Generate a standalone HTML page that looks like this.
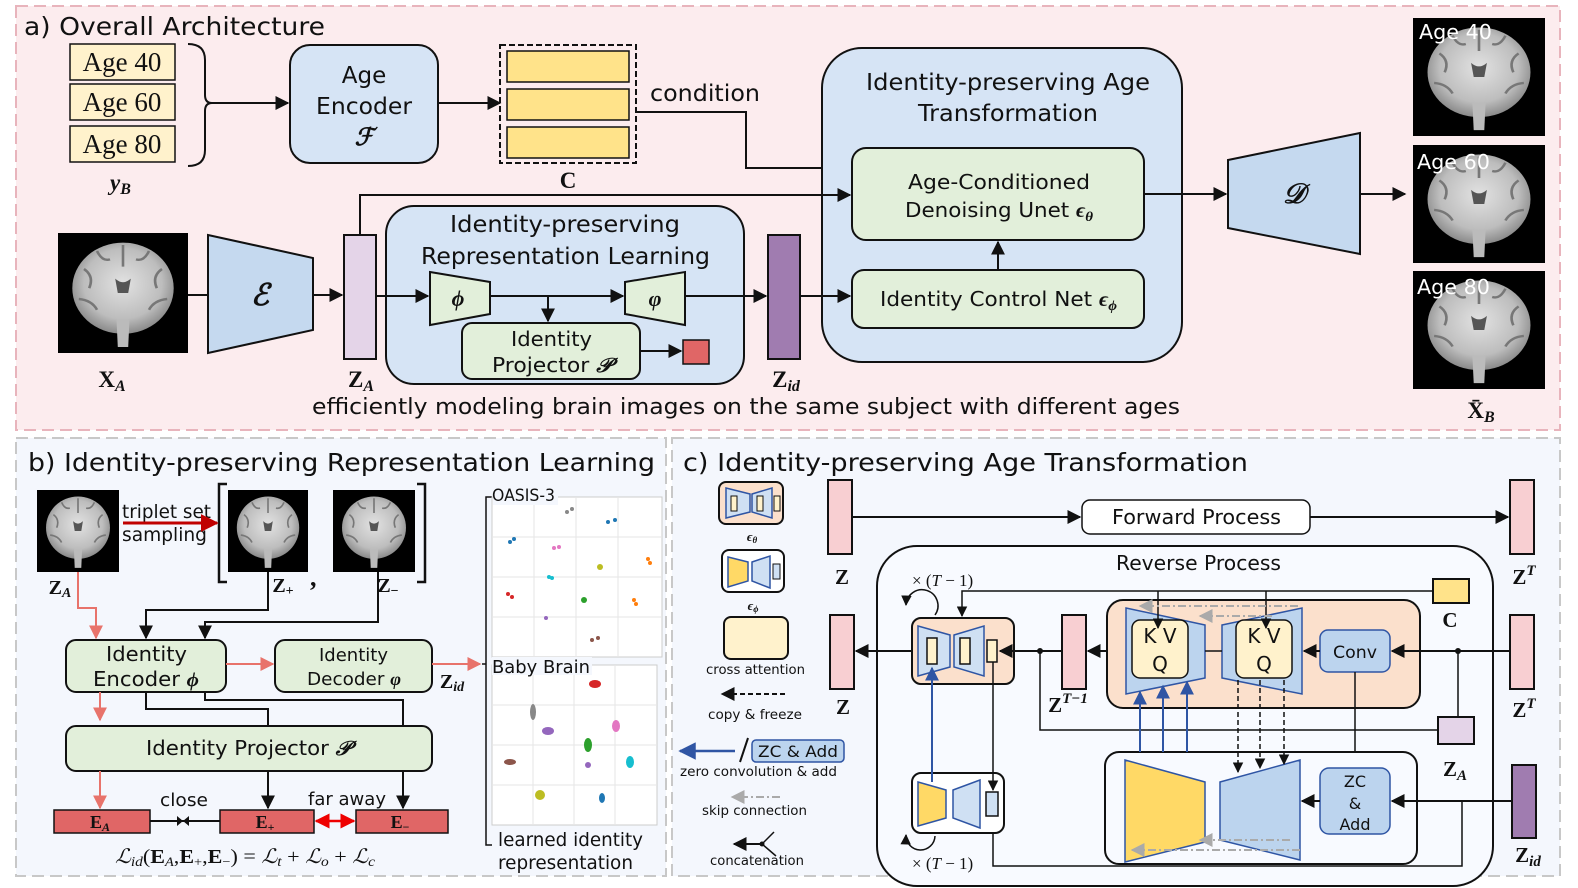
<!DOCTYPE html>
<html><head><meta charset="utf-8"><style>
html,body{margin:0;padding:0;background:#fff}
svg{display:block}
text{font-family:"DejaVu Sans","Liberation Sans",sans-serif;fill:#111}
.m{font-family:"Liberation Serif","DejaVu Serif",serif;font-weight:bold}
.mi{font-family:"Liberation Serif","DejaVu Serif",serif;font-style:italic;font-weight:bold}
</style></head><body>
<svg width="1578" height="888" viewBox="0 0 1578 888" xmlns="http://www.w3.org/2000/svg">
<defs>
<marker id="ar" viewBox="0 0 10 10" refX="9" refY="5" markerWidth="7" markerHeight="7" orient="auto-start-reverse"><path d="M0,0L10,5L0,10z" fill="#111"/></marker>
<marker id="rr" viewBox="0 0 10 10" refX="9" refY="5" markerWidth="7" markerHeight="7" orient="auto-start-reverse"><path d="M0,0L10,5L0,10z" fill="#e8736b"/></marker>
<marker id="dr" viewBox="0 0 10 10" refX="9" refY="5" markerWidth="6" markerHeight="6" orient="auto-start-reverse"><path d="M0,0L10,5L0,10z" fill="#c00000"/></marker>
<marker id="br" viewBox="0 0 10 10" refX="9" refY="5" markerWidth="7" markerHeight="7" orient="auto"><path d="M0,0L10,5L0,10z" fill="#2f55a4"/></marker>
<marker id="gr" viewBox="0 0 10 10" refX="9" refY="5" markerWidth="7" markerHeight="7" orient="auto"><path d="M0,0L10,5L0,10z" fill="#aaa"/></marker>
<marker id="ra" viewBox="0 0 10 10" refX="9" refY="5" markerWidth="6" markerHeight="6" orient="auto-start-reverse"><path d="M0,0L10,5L0,10z" fill="#e00"/></marker>
<radialGradient id="bg1" cx="50%" cy="45%" r="55%"><stop offset="0" stop-color="#e2e2e2"/><stop offset="0.7" stop-color="#bdbdbd"/><stop offset="1" stop-color="#8a8a8a"/></radialGradient>
<symbol id="brain" viewBox="0 0 100 100" preserveAspectRatio="none">
<rect width="100" height="100" fill="#000"/>
<ellipse cx="50" cy="46" rx="39" ry="38" fill="url(#bg1)"/>
<path d="M45,72 L55,72 L54,95 L46,95z" fill="#bbb"/>
<g stroke="#777" stroke-width="2" fill="none">
<path d="M20,30 Q28,36 24,46 M80,30 Q72,36 76,46 M30,15 Q34,24 40,22 M70,15 Q66,24 60,22 M16,55 Q26,56 30,64 M84,55 Q74,56 70,64 M50,10 L50,28"/>
</g>
<path d="M44,38 Q50,44 56,38 L54,50 L46,50z" fill="#555"/>
</symbol>
</defs>

<rect x="16" y="6" width="1544" height="424" fill="#fcecee" stroke="#e8b4bc" stroke-width="2" stroke-dasharray="12 6"/>
<rect x="16" y="438" width="650" height="438" fill="#f4f7fd" stroke="#c8c8c8" stroke-width="2" stroke-dasharray="12 6"/>
<rect x="672" y="438" width="888" height="438" fill="#f4f7fd" stroke="#c8c8c8" stroke-width="2" stroke-dasharray="12 6"/>

<!-- ===== Panel a ===== -->
<text x="24" y="35" font-size="25" textLength="301" lengthAdjust="spacingAndGlyphs">a) Overall Architecture</text>
<rect x="70" y="44" width="105" height="36" fill="#fff2cc" stroke="#111" stroke-width="1.5"/>
<rect x="70" y="84" width="105" height="36" fill="#fff2cc" stroke="#111" stroke-width="1.5"/>
<rect x="70" y="126" width="105" height="36" fill="#fff2cc" stroke="#111" stroke-width="1.5"/>
<text x="122" y="71" font-size="27" text-anchor="middle" style="font-family:'Liberation Serif',serif">Age 40</text>
<text x="122" y="111" font-size="27" text-anchor="middle" style="font-family:'Liberation Serif',serif">Age 60</text>
<text x="122" y="153" font-size="27" text-anchor="middle" style="font-family:'Liberation Serif',serif">Age 80</text>
<path d="M188,44 Q205,44 205,60 L205,95 Q205,103 212,103 Q205,103 205,111 L205,150 Q205,166 188,166" fill="none" stroke="#111" stroke-width="2"/>
<line x1="212" y1="103" x2="288" y2="103" stroke="#111" stroke-width="2" marker-end="url(#ar)"/>
<text x="110" y="190" font-size="23" class="mi">y<tspan font-size="16" dy="4">B</tspan></text>
<rect x="290" y="45" width="148" height="118" rx="20" fill="#d6e4f5" stroke="#111" stroke-width="2"/>
<text x="364" y="83" font-size="23" text-anchor="middle">Age</text>
<text x="364" y="114" font-size="23" text-anchor="middle" textLength="96" lengthAdjust="spacingAndGlyphs">Encoder</text>
<text x="364" y="145" font-size="24" text-anchor="middle" class="mi">ℱ</text>
<line x1="438" y1="103" x2="500" y2="103" stroke="#111" stroke-width="2" marker-end="url(#ar)"/>
<rect x="500" y="45" width="136" height="118" fill="none" stroke="#111" stroke-width="2" stroke-dasharray="6 3"/>
<rect x="507" y="51" width="122" height="31" fill="#ffe38a" stroke="#111" stroke-width="1.5"/>
<rect x="507" y="89" width="122" height="31" fill="#ffe38a" stroke="#111" stroke-width="1.5"/>
<rect x="507" y="127" width="122" height="31" fill="#ffe38a" stroke="#111" stroke-width="1.5"/>
<text x="568" y="188" font-size="23" class="m" text-anchor="middle">C</text>
<text x="650" y="101" font-size="23" textLength="110" lengthAdjust="spacingAndGlyphs">condition</text>
<polyline points="636,112 746,112 746,168 850,168" fill="none" stroke="#111" stroke-width="2" marker-end="url(#ar)"/>
<rect x="822" y="48" width="360" height="314" rx="40" fill="#d6e4f5" stroke="#111" stroke-width="2"/>
<text x="866" y="90" font-size="23" textLength="284" lengthAdjust="spacingAndGlyphs">Identity-preserving Age</text>
<text x="918" y="121" font-size="23" textLength="180" lengthAdjust="spacingAndGlyphs">Transformation</text>
<rect x="852" y="148" width="292" height="92" rx="14" fill="#e2efda" stroke="#111" stroke-width="2"/>
<text x="908" y="189" font-size="20" textLength="182" lengthAdjust="spacingAndGlyphs">Age-Conditioned</text>
<text x="905" y="217" font-size="20" textLength="188" lengthAdjust="spacingAndGlyphs">Denoising Unet <tspan class="mi">ϵ<tspan font-size="14" dy="4">θ</tspan></tspan></text>
<rect x="852" y="270" width="292" height="58" rx="12" fill="#e2efda" stroke="#111" stroke-width="2"/>
<text x="880" y="306" font-size="20" textLength="237" lengthAdjust="spacingAndGlyphs">Identity Control Net <tspan class="mi">ϵ<tspan font-size="14" dy="4">ϕ</tspan></tspan></text>
<line x1="998" y1="270" x2="998" y2="242" stroke="#111" stroke-width="2" marker-end="url(#ar)"/>
<use href="#brain" x="58" y="233" width="130" height="120"/>
<text x="112" y="387" font-size="23" class="m" text-anchor="middle">X<tspan font-size="16" dy="4" class="mi">A</tspan></text>
<line x1="188" y1="295" x2="208" y2="295" stroke="#111" stroke-width="2"/>
<polygon points="208,235 313,258 313,330 208,353" fill="#c5d9ef" stroke="#111" stroke-width="2"/>
<text x="260" y="305" font-size="30" class="mi" text-anchor="middle">ℰ</text>
<line x1="313" y1="295" x2="342" y2="295" stroke="#111" stroke-width="2" marker-end="url(#ar)"/>
<rect x="344" y="235" width="32" height="124" fill="#e4d4e8" stroke="#111" stroke-width="2"/>
<text x="361" y="387" font-size="23" class="m" text-anchor="middle">Z<tspan font-size="16" dy="4" class="mi">A</tspan></text>
<polyline points="360,235 360,195 850,195" fill="none" stroke="#111" stroke-width="2" marker-end="url(#ar)"/>
<rect x="386" y="206" width="358" height="178" rx="28" fill="#d6e4f5" stroke="#111" stroke-width="2"/>
<text x="450" y="232" font-size="23" textLength="230" lengthAdjust="spacingAndGlyphs">Identity-preserving</text>
<text x="421" y="264" font-size="23" textLength="289" lengthAdjust="spacingAndGlyphs">Representation Learning</text>
<line x1="376" y1="296" x2="428" y2="296" stroke="#111" stroke-width="2" marker-end="url(#ar)"/>
<polygon points="430,272 490,282 490,314 430,325" fill="#e2efda" stroke="#111" stroke-width="2"/>
<text x="458" y="306" font-size="22" class="mi" text-anchor="middle">ϕ</text>
<line x1="490" y1="296" x2="623" y2="296" stroke="#111" stroke-width="2" marker-end="url(#ar)"/>
<line x1="548" y1="296" x2="548" y2="321" stroke="#111" stroke-width="2" marker-end="url(#ar)"/>
<polygon points="625,282 685,272 685,325 625,314" fill="#e2efda" stroke="#111" stroke-width="2"/>
<text x="655" y="306" font-size="22" class="mi" text-anchor="middle">φ</text>
<rect x="462" y="323" width="178" height="56" rx="10" fill="#e2efda" stroke="#111" stroke-width="2"/>
<text x="511" y="346" font-size="20" textLength="81" lengthAdjust="spacingAndGlyphs">Identity</text>
<text x="492" y="372" font-size="20" textLength="120" lengthAdjust="spacingAndGlyphs">Projector <tspan class="mi">𝒫</tspan></text>
<line x1="640" y1="351" x2="681" y2="351" stroke="#111" stroke-width="2" marker-end="url(#ar)"/>
<rect x="683" y="340" width="26" height="24" fill="#e06666" stroke="#111" stroke-width="1.5"/>
<line x1="685" y1="296" x2="766" y2="296" stroke="#111" stroke-width="2" marker-end="url(#ar)"/>
<rect x="768" y="235" width="32" height="124" fill="#a07cb0" stroke="#111" stroke-width="2"/>
<text x="786" y="387" font-size="23" class="m" text-anchor="middle">Z<tspan font-size="16" dy="4" class="mi">id</tspan></text>
<line x1="800" y1="296" x2="850" y2="296" stroke="#111" stroke-width="2" marker-end="url(#ar)"/>
<text x="312" y="414" font-size="22" textLength="868" lengthAdjust="spacingAndGlyphs">efficiently modeling brain images on the same subject with different ages</text>
<line x1="1144" y1="194" x2="1226" y2="194" stroke="#111" stroke-width="2" marker-end="url(#ar)"/>
<polygon points="1228,160 1360,133 1360,254 1228,228" fill="#c5d9ef" stroke="#111" stroke-width="2"/>
<text x="1294" y="203" font-size="28" class="mi" text-anchor="middle">𝒟</text>
<line x1="1360" y1="194" x2="1405" y2="194" stroke="#111" stroke-width="2" marker-end="url(#ar)"/>
<use href="#brain" x="1413" y="18" width="132" height="118"/>
<use href="#brain" x="1413" y="145" width="132" height="118"/>
<use href="#brain" x="1413" y="271" width="132" height="118"/>
<text x="1419" y="39" font-size="20" style="fill:#fff" textLength="73" lengthAdjust="spacingAndGlyphs">Age 40</text>
<text x="1417" y="169" font-size="20" style="fill:#fff" textLength="73" lengthAdjust="spacingAndGlyphs">Age 60</text>
<text x="1417" y="294" font-size="20" style="fill:#fff" textLength="73" lengthAdjust="spacingAndGlyphs">Age 80</text>
<text x="1481" y="418" font-size="23" class="m" text-anchor="middle">X̄<tspan font-size="16" dy="4" class="mi">B</tspan></text>

<!-- ===== Panel b ===== -->
<text x="28" y="471" font-size="25" textLength="627" lengthAdjust="spacingAndGlyphs">b) Identity-preserving Representation Learning</text>
<use href="#brain" x="37" y="490" width="82" height="82"/>
<use href="#brain" x="228" y="490" width="80" height="82"/>
<use href="#brain" x="333" y="490" width="82" height="82"/>
<path d="M227,484 L219,484 L219,582 L227,582" fill="none" stroke="#111" stroke-width="2.5"/>
<path d="M417,484 L425,484 L425,582 L417,582" fill="none" stroke="#111" stroke-width="2.5"/>
<text x="122" y="518" font-size="19" textLength="89" lengthAdjust="spacingAndGlyphs">triplet set</text>
<text x="122" y="541" font-size="19" textLength="85" lengthAdjust="spacingAndGlyphs">sampling</text>
<line x1="123" y1="523" x2="217" y2="523" stroke="#c00000" stroke-width="3" marker-end="url(#dr)"/>
<text x="60" y="594" font-size="20" class="m" text-anchor="middle">Z<tspan font-size="14" dy="3" class="mi">A</tspan></text>
<text x="283" y="592" font-size="20" class="m" text-anchor="middle">Z<tspan font-size="14" dy="3">+</tspan></text>
<text x="310" y="586" font-size="26" class="m">,</text>
<text x="388" y="592" font-size="20" class="m" text-anchor="middle">Z<tspan font-size="14" dy="3">−</tspan></text>
<polyline points="78,572 78,608 96,608 96,638" fill="none" stroke="#e8736b" stroke-width="2" marker-end="url(#rr)"/>
<polyline points="268,572 268,610 146,610 146,638" fill="none" stroke="#111" stroke-width="2" marker-end="url(#ar)"/>
<polyline points="378,572 378,622 205,622 205,638" fill="none" stroke="#111" stroke-width="2" marker-end="url(#ar)"/>
<rect x="66" y="640" width="160" height="52" rx="10" fill="#e2efda" stroke="#111" stroke-width="2"/>
<text x="106" y="661" font-size="20" textLength="81" lengthAdjust="spacingAndGlyphs">Identity</text>
<text x="93" y="686" font-size="20" textLength="106" lengthAdjust="spacingAndGlyphs">Encoder <tspan class="mi">ϕ</tspan></text>
<line x1="226" y1="664" x2="273" y2="664" stroke="#e8736b" stroke-width="2" marker-end="url(#rr)"/>
<rect x="275" y="640" width="157" height="52" rx="10" fill="#e2efda" stroke="#111" stroke-width="2"/>
<text x="319" y="661" font-size="18" textLength="69" lengthAdjust="spacingAndGlyphs">Identity</text>
<text x="307" y="685" font-size="18" textLength="94" lengthAdjust="spacingAndGlyphs">Decoder <tspan class="mi">φ</tspan></text>
<line x1="432" y1="664" x2="480" y2="664" stroke="#e8736b" stroke-width="2" marker-end="url(#rr)"/>
<text x="452" y="688" font-size="20" class="m" text-anchor="middle">Z<tspan font-size="14" dy="3" class="mi">id</tspan></text>
<line x1="100" y1="692" x2="100" y2="720" stroke="#e8736b" stroke-width="2" marker-end="url(#rr)"/>
<polyline points="146,692 146,709 268,709 268,726" fill="none" stroke="#111" stroke-width="2"/>
<polyline points="205,692 205,700 403,700 403,726" fill="none" stroke="#111" stroke-width="2"/>
<rect x="66" y="726" width="366" height="45" rx="10" fill="#e2efda" stroke="#111" stroke-width="2"/>
<text x="146" y="755" font-size="20" textLength="205" lengthAdjust="spacingAndGlyphs">Identity Projector <tspan class="mi">𝒫</tspan></text>
<line x1="100" y1="771" x2="100" y2="808" stroke="#e8736b" stroke-width="2" marker-end="url(#rr)"/>
<line x1="268" y1="771" x2="268" y2="808" stroke="#111" stroke-width="2" marker-end="url(#ar)"/>
<line x1="403" y1="771" x2="403" y2="808" stroke="#111" stroke-width="2" marker-end="url(#ar)"/>
<rect x="54" y="810" width="96" height="23" fill="#e06666" stroke="#111" stroke-width="1.5"/>
<rect x="220" y="810" width="94" height="23" fill="#e06666" stroke="#111" stroke-width="1.5"/>
<rect x="356" y="810" width="92" height="23" fill="#e06666" stroke="#111" stroke-width="1.5"/>
<text x="100" y="828" font-size="18" class="m" text-anchor="middle">E<tspan font-size="12" dy="3" class="mi">A</tspan></text>
<text x="265" y="828" font-size="18" class="m" text-anchor="middle">E<tspan font-size="12" dy="3">+</tspan></text>
<text x="400" y="828" font-size="18" class="m" text-anchor="middle">E<tspan font-size="12" dy="3">−</tspan></text>
<line x1="150" y1="821" x2="220" y2="821" stroke="#111" stroke-width="2"/>
<path d="M177,816 L189,826 L189,816 L177,826z" fill="#111"/>
<text x="160" y="806" font-size="18" textLength="48" lengthAdjust="spacingAndGlyphs">close</text>
<text x="308" y="805" font-size="18" textLength="78" lengthAdjust="spacingAndGlyphs">far away</text>
<line x1="316" y1="821" x2="354" y2="821" stroke="#e00" stroke-width="2.5" marker-start="url(#ra)" marker-end="url(#ra)"/>
<text x="115" y="863" font-size="20" textLength="260" lengthAdjust="spacingAndGlyphs" style="font-family:'Liberation Serif',serif"><tspan font-style="italic">ℒ</tspan><tspan font-size="14" dy="3" font-style="italic">id</tspan><tspan dy="-3">(</tspan><tspan font-weight="bold">E</tspan><tspan font-size="13" dy="3" font-style="italic">A</tspan><tspan dy="-3">,</tspan><tspan font-weight="bold">E</tspan><tspan font-size="13" dy="3">+</tspan><tspan dy="-3">,</tspan><tspan font-weight="bold">E</tspan><tspan font-size="13" dy="3">−</tspan><tspan dy="-3">) = </tspan><tspan font-style="italic">ℒ</tspan><tspan font-size="14" dy="3" font-style="italic">t</tspan><tspan dy="-3"> + </tspan><tspan font-style="italic">ℒ</tspan><tspan font-size="14" dy="3" font-style="italic">o</tspan><tspan dy="-3"> + </tspan><tspan font-style="italic">ℒ</tspan><tspan font-size="14" dy="3" font-style="italic">c</tspan></text>
<!-- scatter -->
<polyline points="492,497 486,497 486,845 492,845" fill="none" stroke="#111" stroke-width="1.5"/>
<line x1="482" y1="664" x2="486" y2="664" stroke="#111" stroke-width="1.5"/>
<rect x="492" y="497" width="170" height="160" fill="#fff" stroke="#ccc"/>
<g stroke="#e6e6e6"><line x1="492" y1="537" x2="662" y2="537"/><line x1="492" y1="577" x2="662" y2="577"/><line x1="492" y1="617" x2="662" y2="617"/><line x1="534" y1="497" x2="534" y2="657"/><line x1="576" y1="497" x2="576" y2="657"/><line x1="618" y1="497" x2="618" y2="657"/></g>
<rect x="492" y="665" width="165" height="160" fill="#fff" stroke="#ccc"/>
<g stroke="#e6e6e6"><line x1="492" y1="705" x2="657" y2="705"/><line x1="492" y1="745" x2="657" y2="745"/><line x1="492" y1="785" x2="657" y2="785"/><line x1="533" y1="665" x2="533" y2="825"/><line x1="574" y1="665" x2="574" y2="825"/><line x1="615" y1="665" x2="615" y2="825"/></g>
<rect x="493" y="487" width="65" height="18" fill="#f4f7fd"/>
<text x="492" y="501" font-size="17" textLength="63" lengthAdjust="spacingAndGlyphs">OASIS-3</text>
<rect x="492" y="657" width="100" height="18" fill="#f4f7fd"/>
<text x="492" y="673" font-size="18" textLength="98" lengthAdjust="spacingAndGlyphs">Baby Brain</text>
<g>
<circle cx="567" cy="512" r="2" fill="#888"/><circle cx="572" cy="509" r="2" fill="#888"/>
<circle cx="608" cy="522" r="2" fill="#1f77b4"/><circle cx="615" cy="520" r="2" fill="#1f77b4"/>
<circle cx="510" cy="542" r="2" fill="#1f77b4"/><circle cx="514" cy="539" r="2" fill="#1f77b4"/>
<circle cx="554" cy="548" r="2" fill="#e377c2"/><circle cx="559" cy="547" r="2" fill="#e377c2"/>
<circle cx="600" cy="567" r="3" fill="#bcbd22"/>
<circle cx="648" cy="559" r="2" fill="#ff7f0e"/><circle cx="650" cy="563" r="2" fill="#ff7f0e"/>
<circle cx="549" cy="577" r="2" fill="#17becf"/><circle cx="552" cy="578" r="2" fill="#17becf"/>
<circle cx="508" cy="594" r="2" fill="#d62728"/><circle cx="512" cy="597" r="2" fill="#d62728"/>
<circle cx="584" cy="600" r="3" fill="#2ca02c"/>
<circle cx="634" cy="600" r="2" fill="#ff7f0e"/><circle cx="636" cy="604" r="2" fill="#ff7f0e"/>
<circle cx="546" cy="618" r="2" fill="#9467bd"/>
<circle cx="592" cy="640" r="2" fill="#8c564b"/><circle cx="598" cy="638" r="2" fill="#8c564b"/>
<ellipse cx="595" cy="684" rx="6" ry="4" fill="#d62728"/>
<ellipse cx="533" cy="712" rx="3" ry="8" fill="#888"/>
<ellipse cx="548" cy="731" rx="6" ry="4" fill="#9467bd"/>
<ellipse cx="616" cy="726" rx="4" ry="6" fill="#e377c2"/>
<ellipse cx="588" cy="745" rx="4" ry="7" fill="#2ca02c"/>
<circle cx="588" cy="765" r="3" fill="#9467bd"/>
<ellipse cx="510" cy="762" rx="6" ry="3" fill="#8c564b"/>
<ellipse cx="630" cy="762" rx="4" ry="6" fill="#17becf"/>
<ellipse cx="540" cy="795" rx="5" ry="5" fill="#bcbd22"/>
<ellipse cx="602" cy="798" rx="3" ry="5" fill="#1f77b4"/>
</g>
<text x="498" y="846" font-size="19" textLength="145" lengthAdjust="spacingAndGlyphs">learned identity</text>
<text x="498" y="869" font-size="19" textLength="135" lengthAdjust="spacingAndGlyphs">representation</text>

<!-- ===== Panel c ===== -->
<text x="683" y="471" font-size="25" textLength="565" lengthAdjust="spacingAndGlyphs">c) Identity-preserving Age Transformation</text>
<rect x="719" y="482" width="64" height="42" rx="7" fill="#fbe0cc" stroke="#111" stroke-width="2"/>
<polygon points="726,488 750,494 750,512 726,518" fill="#cfe0f3" stroke="#2f55a4" stroke-width="1.5"/>
<polygon points="752,494 772,488 772,518 752,512" fill="#cfe0f3" stroke="#2f55a4" stroke-width="1.5"/>
<rect x="731" y="496" width="6" height="15" fill="#fff2cc" stroke="#111"/><rect x="757" y="496" width="6" height="15" fill="#fff2cc" stroke="#111"/><rect x="774" y="496" width="6" height="15" fill="#fff2cc" stroke="#111"/>
<text x="752" y="541" font-size="13" class="mi" text-anchor="middle">ϵ<tspan font-size="9" dy="2">θ</tspan></text>
<rect x="722" y="550" width="62" height="42" rx="7" fill="#fff" stroke="#111" stroke-width="2"/>
<polygon points="728,557 748,562 748,581 728,587" fill="#ffd966" stroke="#2f55a4" stroke-width="1.5"/>
<polygon points="752,562 770,556 770,588 752,581" fill="#cfe0f3" stroke="#2f55a4" stroke-width="1.5"/>
<rect x="773" y="564" width="7" height="15" fill="#cfe0f3" stroke="#111"/>
<text x="753" y="610" font-size="13" class="mi" text-anchor="middle">ϵ<tspan font-size="9" dy="2">ϕ</tspan></text>
<rect x="724" y="617" width="64" height="42" rx="7" fill="#fff2cc" stroke="#111" stroke-width="2"/>
<text x="706" y="674" font-size="13" textLength="99" lengthAdjust="spacingAndGlyphs">cross attention</text>
<line x1="785" y1="694" x2="722" y2="694" stroke="#111" stroke-width="2" stroke-dasharray="5 3" marker-end="url(#ar)"/>
<text x="708" y="719" font-size="13" textLength="94" lengthAdjust="spacingAndGlyphs">copy &amp; freeze</text>
<line x1="735" y1="751" x2="680" y2="751" stroke="#2f55a4" stroke-width="2.5" marker-end="url(#br)"/>
<line x1="740" y1="762" x2="748" y2="738" stroke="#111" stroke-width="2"/>
<rect x="752" y="740" width="92" height="22" rx="4" fill="#bcd4ee" stroke="#2f55a4" stroke-width="1.5"/>
<text x="798" y="757" font-size="16" text-anchor="middle" textLength="80" lengthAdjust="spacingAndGlyphs">ZC &amp; Add</text>
<text x="680" y="776" font-size="13" textLength="157" lengthAdjust="spacingAndGlyphs">zero convolution &amp; add</text>
<line x1="780" y1="797" x2="732" y2="797" stroke="#aaa" stroke-width="2" stroke-dasharray="8 3 2 3" marker-end="url(#gr)"/>
<text x="702" y="815" font-size="13" textLength="105" lengthAdjust="spacingAndGlyphs">skip connection</text>
<line x1="762" y1="844" x2="734" y2="844" stroke="#111" stroke-width="2" marker-end="url(#ar)"/>
<path d="M762,844 L774,832 M762,844 L776,856" stroke="#111" stroke-width="1.5" fill="none"/>
<circle cx="762" cy="844" r="2.5" fill="#111"/>
<text x="710" y="865" font-size="13" textLength="94" lengthAdjust="spacingAndGlyphs">concatenation</text>

<rect x="828" y="480" width="24" height="74" fill="#f8cfd2" stroke="#111" stroke-width="2"/>
<text x="842" y="584" font-size="21" class="m" text-anchor="middle">Z</text>
<line x1="852" y1="517" x2="1080" y2="517" stroke="#111" stroke-width="2" marker-end="url(#ar)"/>
<rect x="1082" y="500" width="228" height="34" rx="8" fill="#fff" stroke="#111" stroke-width="1.5"/>
<text x="1112" y="524" font-size="20" textLength="169" lengthAdjust="spacingAndGlyphs">Forward Process</text>
<line x1="1310" y1="517" x2="1508" y2="517" stroke="#111" stroke-width="2" marker-end="url(#ar)"/>
<rect x="1510" y="480" width="24" height="74" fill="#f8cfd2" stroke="#111" stroke-width="2"/>
<text x="1524" y="584" font-size="21" class="m" text-anchor="middle">Z<tspan font-size="15" dy="-9" class="mi">T</tspan></text>

<rect x="877" y="546" width="616" height="340" rx="40" fill="#f8faff" stroke="#111" stroke-width="2"/>
<text x="1116" y="570" font-size="20" textLength="165" lengthAdjust="spacingAndGlyphs">Reverse Process</text>
<rect x="1433" y="579" width="36" height="24" fill="#ffe38a" stroke="#111" stroke-width="2"/>
<text x="1450" y="627" font-size="21" class="m" text-anchor="middle">C</text>
<rect x="1510" y="615" width="24" height="74" fill="#f8cfd2" stroke="#111" stroke-width="2"/>
<text x="1524" y="717" font-size="21" class="m" text-anchor="middle">Z<tspan font-size="15" dy="-9" class="mi">T</tspan></text>
<rect x="1438" y="717" width="36" height="27" fill="#e4d4e8" stroke="#111" stroke-width="2"/>
<text x="1455" y="776" font-size="21" class="m" text-anchor="middle">Z<tspan font-size="15" dy="4" class="mi">A</tspan></text>
<rect x="1512" y="765" width="24" height="73" fill="#a07cb0" stroke="#111" stroke-width="2"/>
<text x="1528" y="862" font-size="21" class="m" text-anchor="middle">Z<tspan font-size="15" dy="4" class="mi">id</tspan></text>
<rect x="830" y="615" width="24" height="74" fill="#f8cfd2" stroke="#111" stroke-width="2"/>
<text x="843" y="714" font-size="21" class="m" text-anchor="middle">Z</text>

<rect x="912" y="618" width="102" height="66" rx="9" fill="#fbe0cc" stroke="#111" stroke-width="2"/>
<polygon points="918,626 950,635 950,667 918,676" fill="#cfe0f3" stroke="#2f55a4" stroke-width="1.5"/>
<polygon points="954,635 984,626 984,676 954,667" fill="#cfe0f3" stroke="#2f55a4" stroke-width="1.5"/>
<rect x="927" y="638" width="10" height="26" fill="#fff2cc" stroke="#111" stroke-width="1.5"/>
<rect x="960" y="638" width="10" height="26" fill="#fff2cc" stroke="#111" stroke-width="1.5"/>
<rect x="987" y="640" width="10" height="22" fill="#fff2cc" stroke="#111" stroke-width="1.5"/>
<line x1="912" y1="651" x2="856" y2="651" stroke="#111" stroke-width="2" marker-end="url(#ar)"/>
<text x="912" y="586" font-size="17" style="font-family:'Liberation Serif',serif">× (<tspan font-style="italic">T</tspan> − 1)</text>
<path d="M935,615 A16,16 0 1 0 906,605" fill="none" stroke="#111" stroke-width="1.5" marker-end="url(#ar)"/>
<rect x="1062" y="615" width="24" height="74" fill="#f8cfd2" stroke="#111" stroke-width="2"/>
<text x="1068" y="712" font-size="21" class="m" text-anchor="middle">Z<tspan font-size="15" dy="-9" class="mi">T−1</tspan></text>
<line x1="1062" y1="651" x2="1000" y2="651" stroke="#111" stroke-width="2" marker-end="url(#ar)"/>
<circle cx="1040" cy="651" r="3" fill="#111"/>
<polyline points="1438,730 1040,730 1040,651" fill="none" stroke="#111" stroke-width="1.5"/>
<rect x="1107" y="600" width="313" height="108" rx="16" fill="#fbe0cc" stroke="#111" stroke-width="2"/>
<line x1="1107" y1="651" x2="1088" y2="651" stroke="#111" stroke-width="2" marker-end="url(#ar)"/>
<polygon points="1126,608 1205,625 1205,678 1126,694" fill="#bcd4ee" stroke="#2f55a4" stroke-width="1.5"/>
<polygon points="1222,625 1302,608 1302,694 1222,678" fill="#bcd4ee" stroke="#2f55a4" stroke-width="1.5"/>
<line x1="1205" y1="651" x2="1222" y2="651" stroke="#111" stroke-width="1.5"/>
<rect x="1132" y="620" width="56" height="58" rx="8" fill="#fff2cc" stroke="#111" stroke-width="1.5"/>
<rect x="1236" y="620" width="56" height="58" rx="8" fill="#fff2cc" stroke="#111" stroke-width="1.5"/>
<text x="1160" y="643" font-size="20" text-anchor="middle">K V</text>
<text x="1160" y="671" font-size="20" text-anchor="middle">Q</text>
<text x="1264" y="643" font-size="20" text-anchor="middle">K V</text>
<text x="1264" y="671" font-size="20" text-anchor="middle">Q</text>
<rect x="1320" y="630" width="70" height="42" rx="8" fill="#bcd4ee" stroke="#2f55a4" stroke-width="1.5"/>
<text x="1355" y="658" font-size="17" text-anchor="middle" textLength="44" lengthAdjust="spacingAndGlyphs">Conv</text>
<line x1="1320" y1="651" x2="1304" y2="651" stroke="#111" stroke-width="2" marker-end="url(#ar)"/>
<line x1="1510" y1="651" x2="1392" y2="651" stroke="#111" stroke-width="2" marker-end="url(#ar)"/>
<circle cx="1458" cy="651" r="3" fill="#111"/>
<line x1="1458" y1="651" x2="1458" y2="717" stroke="#111" stroke-width="1.5"/>
<polyline points="1433,591 962,591 962,616" fill="none" stroke="#111" stroke-width="1.5" marker-end="url(#ar)"/>
<line x1="1158" y1="591" x2="1158" y2="628" stroke="#111" stroke-width="1.5" marker-end="url(#ar)"/>
<line x1="1266" y1="591" x2="1266" y2="628" stroke="#111" stroke-width="1.5" marker-end="url(#ar)"/>
<line x1="1298" y1="606" x2="1140" y2="606" stroke="#aaa" stroke-width="2" stroke-dasharray="8 3 2 3" marker-end="url(#gr)"/>
<line x1="1272" y1="616" x2="1200" y2="616" stroke="#aaa" stroke-width="2" stroke-dasharray="8 3 2 3" marker-end="url(#gr)"/>
<line x1="1355" y1="672" x2="1355" y2="766" stroke="#111" stroke-width="1.5" marker-end="url(#ar)"/>
<rect x="1105" y="752" width="312" height="112" rx="14" fill="#f8faff" stroke="#111" stroke-width="2"/>
<polygon points="1125,760 1205,782 1205,842 1125,862" fill="#ffd966" stroke="#2f55a4" stroke-width="1.5"/>
<polygon points="1220,782 1300,760 1300,860 1220,840" fill="#bcd4ee" stroke="#2f55a4" stroke-width="1.5"/>
<rect x="1320" y="768" width="70" height="66" rx="9" fill="#bcd4ee" stroke="#2f55a4" stroke-width="1.5"/>
<text x="1355" y="787" font-size="16" text-anchor="middle">ZC</text>
<text x="1355" y="809" font-size="16" text-anchor="middle">&amp;</text>
<text x="1355" y="830" font-size="16" text-anchor="middle">Add</text>
<line x1="1320" y1="801" x2="1302" y2="801" stroke="#111" stroke-width="2" marker-end="url(#ar)"/>
<line x1="1512" y1="801" x2="1392" y2="801" stroke="#111" stroke-width="2" marker-end="url(#ar)"/>
<polyline points="1462,801 1462,866 993,866 993,822" fill="none" stroke="#111" stroke-width="1.5" marker-end="url(#ar)"/>
<line x1="1140" y1="752" x2="1140" y2="692" stroke="#2f55a4" stroke-width="2" marker-end="url(#br)"/>
<line x1="1163" y1="752" x2="1163" y2="686" stroke="#2f55a4" stroke-width="2" marker-end="url(#br)"/>
<line x1="1187" y1="752" x2="1187" y2="682" stroke="#2f55a4" stroke-width="2" marker-end="url(#br)"/>
<line x1="1238" y1="680" x2="1238" y2="772" stroke="#111" stroke-width="1.5" stroke-dasharray="5 3" marker-end="url(#ar)"/>
<line x1="1260" y1="680" x2="1260" y2="768" stroke="#111" stroke-width="1.5" stroke-dasharray="5 3" marker-end="url(#ar)"/>
<line x1="1284" y1="680" x2="1284" y2="764" stroke="#111" stroke-width="1.5" stroke-dasharray="5 3" marker-end="url(#ar)"/>
<line x1="1290" y1="840" x2="1200" y2="840" stroke="#aaa" stroke-width="2" stroke-dasharray="8 3 2 3" marker-end="url(#gr)"/>
<line x1="1300" y1="850" x2="1132" y2="850" stroke="#aaa" stroke-width="2" stroke-dasharray="8 3 2 3" marker-end="url(#gr)"/>
<rect x="912" y="773" width="92" height="60" rx="9" fill="#fff" stroke="#111" stroke-width="2"/>
<polygon points="918,782 946,790 946,818 918,826" fill="#ffd966" stroke="#2f55a4" stroke-width="1.5"/>
<polygon points="953,790 980,780 980,828 953,818" fill="#cfe0f3" stroke="#2f55a4" stroke-width="1.5"/>
<rect x="986" y="792" width="12" height="24" fill="#cfe0f3" stroke="#111" stroke-width="1.5"/>
<line x1="932" y1="782" x2="932" y2="668" stroke="#2f55a4" stroke-width="2" marker-end="url(#br)"/>
<line x1="993" y1="662" x2="993" y2="790" stroke="#111" stroke-width="1.5" marker-end="url(#ar)"/>
<text x="912" y="869" font-size="17" style="font-family:'Liberation Serif',serif">× (<tspan font-style="italic">T</tspan> − 1)</text>
<path d="M935,836 A14,14 0 1 1 906,835" fill="none" stroke="#111" stroke-width="1.5" marker-end="url(#ar)"/>
</svg>
</body></html>
